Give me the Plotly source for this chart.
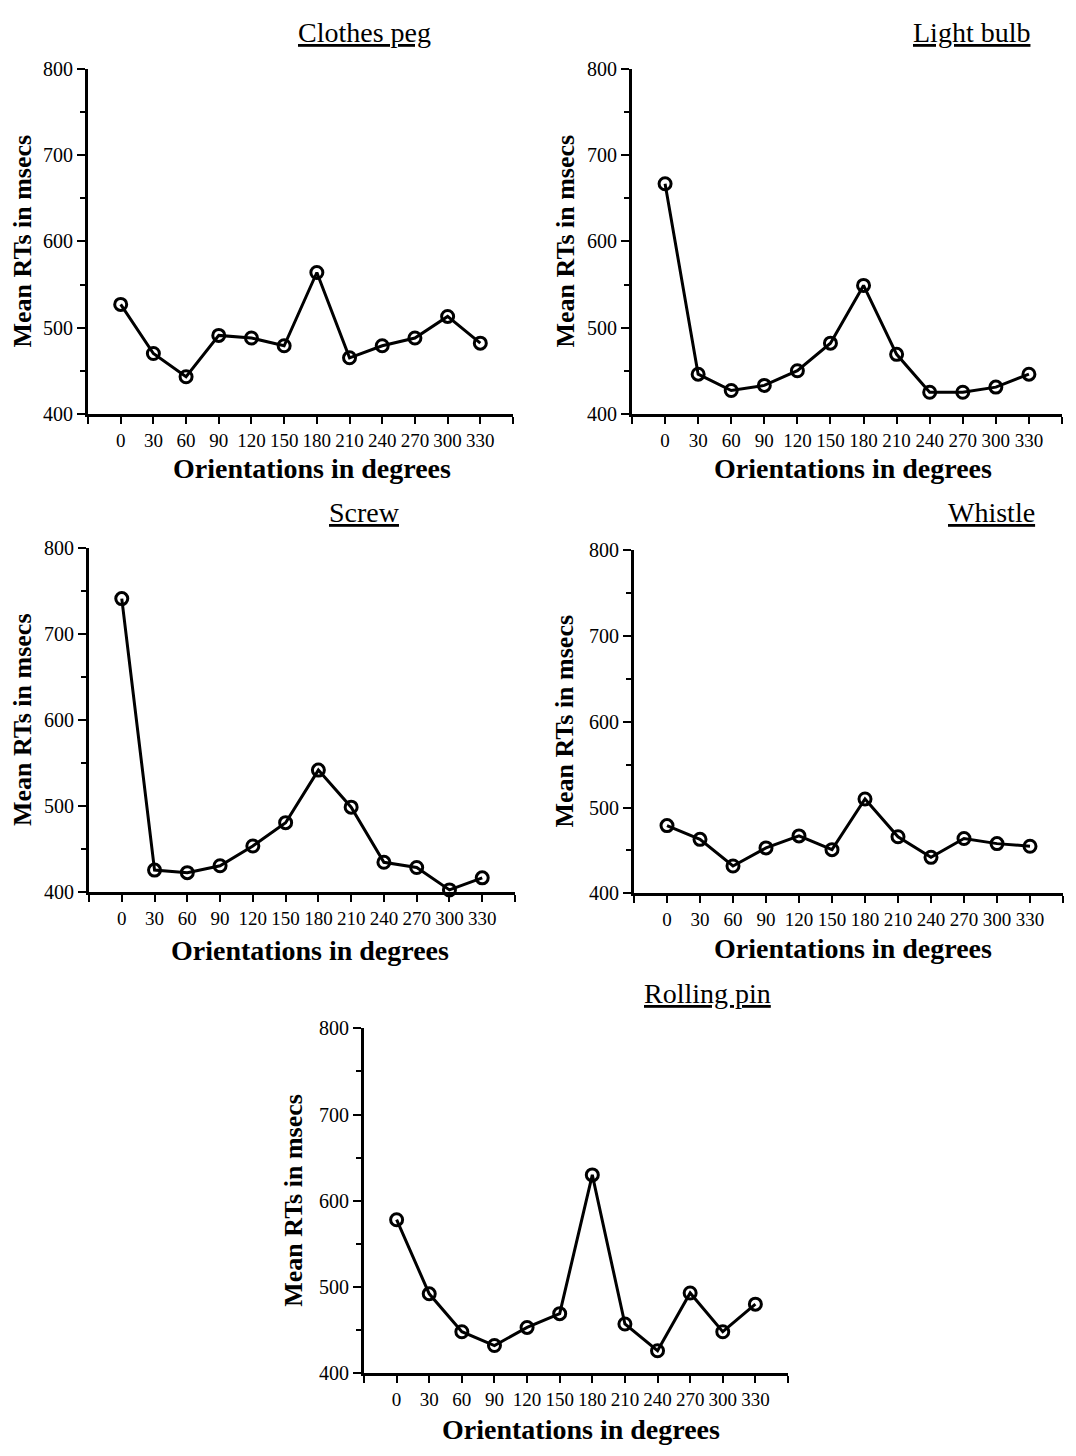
import plotly.graph_objects as go

# Orientation conditions (degrees) shared by every panel
orientations = [0, 30, 60, 90, 120, 150, 180, 210, 240, 270, 300, 330]

# Mean reaction times (msec) per object
clothes_peg = [527, 470, 443, 491, 488, 479, 564, 465, 479, 488, 513, 482]
light_bulb = [667, 446, 427, 433, 450, 482, 549, 469, 425, 425, 431, 446]
screw = [741, 426, 423, 431, 454, 481, 542, 499, 435, 429, 403, 417]
whistle = [479, 463, 432, 453, 467, 451, 510, 466, 442, 464, 458, 455]
rolling_pin = [578, 492, 448, 432, 453, 469, 630, 457, 426, 493, 448, 480]

panel_titles = ["Clothes peg", "Light bulb", "Screw", "Whistle", "Rolling pin"]
panel_series = [clothes_peg, light_bulb, screw, whistle, rolling_pin]

y_title = "Mean RTs in msecs"
x_title = "Orientations in degrees"

W, H = 1076, 1456
FONT = "Liberation Serif"

# Panel layout in pixels: plot box (left, right, top, bottom),
# title right edge / centre y, y-title x, x-title centre (x, y)
panels = [
    dict(box=(88, 513, 59, 409), title=(433, 22), ylab=22, xlab=(312, 465)),
    dict(box=(632, 1062, 59, 409), title=(1032, 22), ylab=565, xlab=(853, 465)),
    dict(box=(89, 515, 545, 895), title=(402, 509), ylab=22, xlab=(310, 954)),
    dict(box=(634, 1063, 547, 896), title=(1037, 509), ylab=565, xlab=(853, 952)),
    dict(box=(364, 788, 1033, 1383), title=(773, 998), ylab=294, xlab=(581, 1440)),
]

x_ticks = [-30] + orientations + [360]
x_labels = [""] + [str(v) for v in orientations] + [""]

fig = go.Figure()
annotations = []

for i, (name, vals, p) in enumerate(zip(panel_titles, panel_series, panels)):
    n = i + 1
    xa = "x" if n == 1 else f"x{n}"
    ya = "y" if n == 1 else f"y{n}"
    l, r, t, b = p["box"]

    fig.add_trace(go.Scatter(
        x=orientations, y=vals, xaxis=xa, yaxis=ya,
        mode="lines+markers",
        line=dict(color="black", width=3),
        marker=dict(symbol="circle-open", size=12, color="black",
                    line=dict(color="black", width=3)),
        showlegend=False, cliponaxis=False,
    ))

    xkey = "xaxis" if n == 1 else f"xaxis{n}"
    ykey = "yaxis" if n == 1 else f"yaxis{n}"
    fig.layout[xkey] = dict(
        domain=[l / W, r / W], anchor=ya, range=[-30, 360],
        tickvals=x_ticks, ticktext=x_labels,
        ticks="outside", ticklen=7, tickwidth=2, tickcolor="black",
        showline=True, linecolor="black", linewidth=3,
        showgrid=False, zeroline=False,
        tickfont=dict(family=FONT, size=19, color="black"),
    )
    fig.layout[ykey] = dict(
        domain=[1 - b / H, 1 - t / H], anchor=xa, range=[400, 800],
        tickvals=[400, 500, 600, 700, 800],
        ticks="outside", ticklen=8, tickwidth=2, tickcolor="black",
        minor=dict(tickvals=[450, 550, 650, 750], ticks="outside",
                   ticklen=5, tickwidth=2, tickcolor="black"),
        showline=True, linecolor="black", linewidth=3,
        showgrid=False, zeroline=False,
        tickfont=dict(family=FONT, size=20, color="black"),
    )

    tx, ty = p["title"]
    annotations.append(dict(
        text=f"<u>{name}</u>", x=tx / W, y=1 - ty / H, xref="paper", yref="paper",
        xanchor="right", yanchor="middle", showarrow=False,
        font=dict(family=FONT, size=28, color="black"),
    ))
    annotations.append(dict(
        text=f"<b>{y_title}</b>", x=p["ylab"] / W, y=1 - ((t + b) / 2) / H,
        xref="paper", yref="paper", textangle=-90,
        xanchor="center", yanchor="middle", showarrow=False,
        font=dict(family=FONT, size=26, color="black"),
    ))
    cx, cy = p["xlab"]
    annotations.append(dict(
        text=f"<b>{x_title}</b>", x=cx / W, y=1 - cy / H,
        xref="paper", yref="paper",
        xanchor="center", yanchor="middle", showarrow=False,
        font=dict(family=FONT, size=28, color="black"),
    ))

fig.update_layout(
    width=W, height=H,
    margin=dict(l=0, r=0, t=0, b=0),
    paper_bgcolor="white", plot_bgcolor="white",
    annotations=annotations,
)

fig.write_html("out.html")
